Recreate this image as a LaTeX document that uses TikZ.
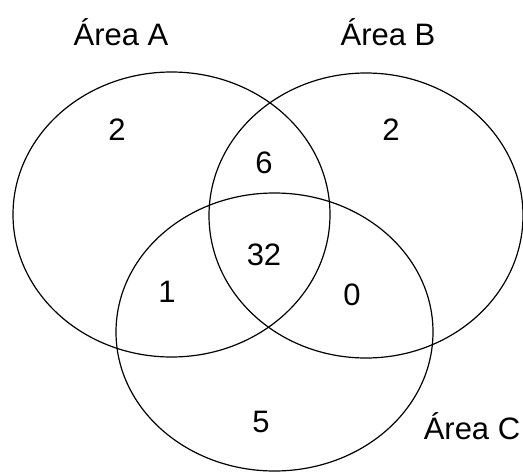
\documentclass[tikz,border=0pt]{standalone}
\usepackage{fontspec}
\setmainfont{Liberation Sans}
\begin{document}
\begin{tikzpicture}[x=1pt,y=-1pt,
  set/.style={draw=black,line width=1.2pt},
  lbl/.style={anchor=base,inner sep=0pt,font=\fontsize{31}{36}\selectfont}]
\useasboundingbox (0,0) rectangle (523,472);
\draw[set] (171.5,214.5) ellipse [x radius=158.5,y radius=142.5];
\draw[set] (366,215.5) ellipse [x radius=157,y radius=142.5];
\draw[set] (274.5,332) ellipse [x radius=158.5,y radius=139];
\node[lbl] (la) at (121,45) {Área A};
\node[lbl] (lb) at (388,45) {Área B};
\node[lbl] (lc) at (472,439) {Área C};
\node[lbl] (n1) at (117,140) {2};
\node[lbl] (n2) at (264,173) {6};
\node[lbl] (n3) at (391,140) {2};
\node[lbl] (n4) at (264,265) {32};
\node[lbl] (n5) at (167,302) {1};
\node[lbl] (n6) at (352,305) {0};
\node[lbl] (n7) at (261,432) {5};
\end{tikzpicture}
\end{document}
